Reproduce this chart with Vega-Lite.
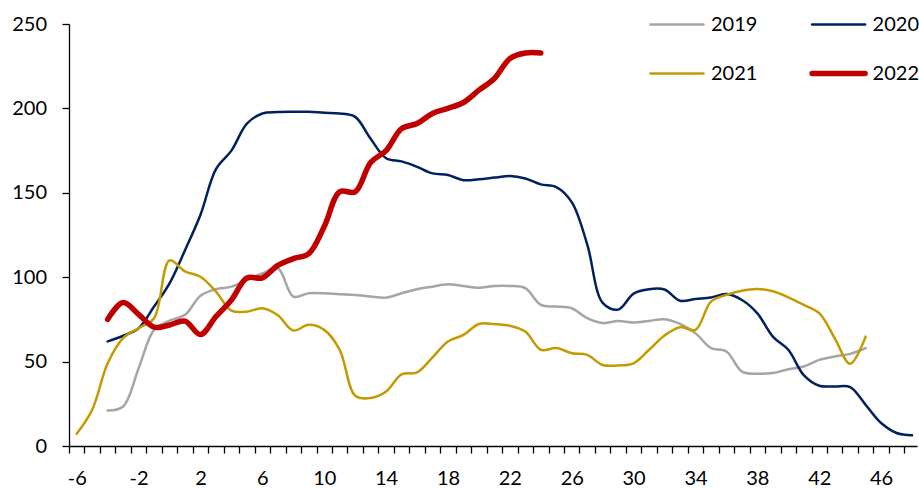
{
  "$schema": "https://vega.github.io/schema/vega-lite/v6.json",
  "width": 848,
  "height": 422,
  "autosize": {"type": "none"},
  "padding": {"left": 69, "top": 24, "right": 2, "bottom": 42},
  "background": "white",
  "config": {
    "view": {"stroke": null},
    "font": "Lato",
    "axis": {"grid": false, "domainColor": "#000000", "domainWidth": 1.3, "tickColor": "#000000", "tickWidth": 1.3, "tickSize": 7, "labelFont": "Lato", "labelFontSize": 20, "labelColor": "#000000", "title": null}
  },
  "datasets": {
    "series": [
      {"year": "2019", "week": -4, "value": 21}, {"year": "2019", "week": -3, "value": 23.4}, {"year": "2019", "week": -2, "value": 46}, {"year": "2019", "week": -1, "value": 68.8}, {"year": "2019", "week": 0, "value": 74.3}, {"year": "2019", "week": 1, "value": 77.7}, {"year": "2019", "week": 2, "value": 89}, {"year": "2019", "week": 3, "value": 92.9}, {"year": "2019", "week": 4, "value": 94.4}, {"year": "2019", "week": 5, "value": 98.4}, {"year": "2019", "week": 6, "value": 102.3}, {"year": "2019", "week": 7, "value": 105.3}, {"year": "2019", "week": 8, "value": 88.5}, {"year": "2019", "week": 9, "value": 90.5}, {"year": "2019", "week": 10, "value": 90.5}, {"year": "2019", "week": 11, "value": 89.9}, {"year": "2019", "week": 12, "value": 89.5}, {"year": "2019", "week": 13, "value": 88.5}, {"year": "2019", "week": 14, "value": 87.9}, {"year": "2019", "week": 15, "value": 90.5}, {"year": "2019", "week": 16, "value": 92.9}, {"year": "2019", "week": 17, "value": 94.4}, {"year": "2019", "week": 18, "value": 95.8}, {"year": "2019", "week": 19, "value": 94.8}, {"year": "2019", "week": 20, "value": 93.8}, {"year": "2019", "week": 21, "value": 94.8}, {"year": "2019", "week": 22, "value": 94.8}, {"year": "2019", "week": 23, "value": 93.5}, {"year": "2019", "week": 24, "value": 83.6}, {"year": "2019", "week": 25, "value": 82.6}, {"year": "2019", "week": 26, "value": 81.6}, {"year": "2019", "week": 27, "value": 75.7}, {"year": "2019", "week": 28, "value": 72.8}, {"year": "2019", "week": 29, "value": 74.1}, {"year": "2019", "week": 30, "value": 73.1}, {"year": "2019", "week": 31, "value": 74.1}, {"year": "2019", "week": 32, "value": 75.1}, {"year": "2019", "week": 33, "value": 72.3}, {"year": "2019", "week": 34, "value": 66.8}, {"year": "2019", "week": 35, "value": 58}, {"year": "2019", "week": 36, "value": 56}, {"year": "2019", "week": 37, "value": 44.1}, {"year": "2019", "week": 38, "value": 42.8}, {"year": "2019", "week": 39, "value": 43.2}, {"year": "2019", "week": 40, "value": 45.5}, {"year": "2019", "week": 41, "value": 47.1}, {"year": "2019", "week": 42, "value": 51}, {"year": "2019", "week": 43, "value": 53}, {"year": "2019", "week": 44, "value": 54.6}, {"year": "2019", "week": 45, "value": 58},
      {"year": "2020", "week": -4, "value": 62}, {"year": "2020", "week": -3, "value": 65.3}, {"year": "2020", "week": -2, "value": 69.8}, {"year": "2020", "week": -1, "value": 82.6}, {"year": "2020", "week": 0, "value": 96.4}, {"year": "2020", "week": 1, "value": 116}, {"year": "2020", "week": 2, "value": 137}, {"year": "2020", "week": 3, "value": 164}, {"year": "2020", "week": 4, "value": 175}, {"year": "2020", "week": 5, "value": 191}, {"year": "2020", "week": 6, "value": 197}, {"year": "2020", "week": 7, "value": 197.8}, {"year": "2020", "week": 8, "value": 198}, {"year": "2020", "week": 9, "value": 198}, {"year": "2020", "week": 10, "value": 197.4}, {"year": "2020", "week": 11, "value": 197}, {"year": "2020", "week": 12, "value": 195}, {"year": "2020", "week": 13, "value": 182}, {"year": "2020", "week": 14, "value": 170.5}, {"year": "2020", "week": 15, "value": 168.6}, {"year": "2020", "week": 16, "value": 165.4}, {"year": "2020", "week": 17, "value": 161.5}, {"year": "2020", "week": 18, "value": 160.5}, {"year": "2020", "week": 19, "value": 157.5}, {"year": "2020", "week": 20, "value": 158}, {"year": "2020", "week": 21, "value": 159}, {"year": "2020", "week": 22, "value": 160}, {"year": "2020", "week": 23, "value": 158.5}, {"year": "2020", "week": 24, "value": 155}, {"year": "2020", "week": 25, "value": 153.4}, {"year": "2020", "week": 26, "value": 144.5}, {"year": "2020", "week": 27, "value": 119.5}, {"year": "2020", "week": 28, "value": 84.8}, {"year": "2020", "week": 29, "value": 80.8}, {"year": "2020", "week": 30, "value": 90.3}, {"year": "2020", "week": 31, "value": 92.9}, {"year": "2020", "week": 32, "value": 92.7}, {"year": "2020", "week": 33, "value": 86}, {"year": "2020", "week": 34, "value": 87.1}, {"year": "2020", "week": 35, "value": 88}, {"year": "2020", "week": 36, "value": 90}, {"year": "2020", "week": 37, "value": 86.5}, {"year": "2020", "week": 38, "value": 78.6}, {"year": "2020", "week": 39, "value": 64.8}, {"year": "2020", "week": 40, "value": 57}, {"year": "2020", "week": 41, "value": 42}, {"year": "2020", "week": 42, "value": 35.7}, {"year": "2020", "week": 43, "value": 35.3}, {"year": "2020", "week": 44, "value": 34.9}, {"year": "2020", "week": 45, "value": 24.4}, {"year": "2020", "week": 46, "value": 13.6}, {"year": "2020", "week": 47, "value": 7.7}, {"year": "2020", "week": 48, "value": 6.3},
      {"year": "2021", "week": -6, "value": 7.3}, {"year": "2021", "week": -5, "value": 21.5}, {"year": "2021", "week": -4, "value": 49}, {"year": "2021", "week": -3, "value": 63.9}, {"year": "2021", "week": -2, "value": 69.8}, {"year": "2021", "week": -1, "value": 75.7}, {"year": "2021", "week": 0, "value": 110}, {"year": "2021", "week": 1, "value": 103.5}, {"year": "2021", "week": 2, "value": 100.3}, {"year": "2021", "week": 3, "value": 91.5}, {"year": "2021", "week": 4, "value": 80.2}, {"year": "2021", "week": 5, "value": 79.6}, {"year": "2021", "week": 6, "value": 81.6}, {"year": "2021", "week": 7, "value": 77.5}, {"year": "2021", "week": 8, "value": 68.4}, {"year": "2021", "week": 9, "value": 71.8}, {"year": "2021", "week": 10, "value": 68.8}, {"year": "2021", "week": 11, "value": 57}, {"year": "2021", "week": 12, "value": 29.8}, {"year": "2021", "week": 13, "value": 28.4}, {"year": "2021", "week": 14, "value": 32.3}, {"year": "2021", "week": 15, "value": 42.4}, {"year": "2021", "week": 16, "value": 43.6}, {"year": "2021", "week": 17, "value": 52.5}, {"year": "2021", "week": 18, "value": 61.9}, {"year": "2021", "week": 19, "value": 65.8}, {"year": "2021", "week": 20, "value": 72.3}, {"year": "2021", "week": 21, "value": 72.2}, {"year": "2021", "week": 22, "value": 71.2}, {"year": "2021", "week": 23, "value": 67.8}, {"year": "2021", "week": 24, "value": 57}, {"year": "2021", "week": 25, "value": 58}, {"year": "2021", "week": 26, "value": 55}, {"year": "2021", "week": 27, "value": 54}, {"year": "2021", "week": 28, "value": 48}, {"year": "2021", "week": 29, "value": 47.7}, {"year": "2021", "week": 30, "value": 49}, {"year": "2021", "week": 31, "value": 57}, {"year": "2021", "week": 32, "value": 65.5}, {"year": "2021", "week": 33, "value": 70.4}, {"year": "2021", "week": 34, "value": 68.8}, {"year": "2021", "week": 35, "value": 85.5}, {"year": "2021", "week": 36, "value": 89.5}, {"year": "2021", "week": 37, "value": 92}, {"year": "2021", "week": 38, "value": 93}, {"year": "2021", "week": 39, "value": 91.7}, {"year": "2021", "week": 40, "value": 88.1}, {"year": "2021", "week": 41, "value": 83.6}, {"year": "2021", "week": 42, "value": 78.7}, {"year": "2021", "week": 43, "value": 63.9}, {"year": "2021", "week": 44, "value": 48.7}, {"year": "2021", "week": 45, "value": 64.8},
      {"year": "2022", "week": -4, "value": 75}, {"year": "2022", "week": -3, "value": 85}, {"year": "2022", "week": -2, "value": 78}, {"year": "2022", "week": -1, "value": 70.4}, {"year": "2022", "week": 0, "value": 71.7}, {"year": "2022", "week": 1, "value": 74}, {"year": "2022", "week": 2, "value": 66}, {"year": "2022", "week": 3, "value": 76.7}, {"year": "2022", "week": 4, "value": 86.5}, {"year": "2022", "week": 5, "value": 99.5}, {"year": "2022", "week": 6, "value": 99.6}, {"year": "2022", "week": 7, "value": 107}, {"year": "2022", "week": 8, "value": 111}, {"year": "2022", "week": 9, "value": 114}, {"year": "2022", "week": 10, "value": 130}, {"year": "2022", "week": 11, "value": 150.6}, {"year": "2022", "week": 12, "value": 150.6}, {"year": "2022", "week": 13, "value": 168}, {"year": "2022", "week": 14, "value": 175}, {"year": "2022", "week": 15, "value": 188}, {"year": "2022", "week": 16, "value": 191}, {"year": "2022", "week": 17, "value": 197}, {"year": "2022", "week": 18, "value": 200}, {"year": "2022", "week": 19, "value": 203.5}, {"year": "2022", "week": 20, "value": 210.8}, {"year": "2022", "week": 21, "value": 217.7}, {"year": "2022", "week": 22, "value": 229.5}, {"year": "2022", "week": 23, "value": 232.8}, {"year": "2022", "week": 24, "value": 232.8}
    ]
  },
  "data": {"name": "series"},
  "mark": {"type": "line", "interpolate": "catmull-rom", "strokeCap": "round", "strokeJoin": "round"},
  "encoding": {
    "x": {
      "field": "week", "type": "quantitative",
      "scale": {"domain": [-6.5, 48.32], "nice": false, "zero": false},
      "axis": {
        "values": [-6,-5,-4,-3,-2,-1,0,1,2,3,4,5,6,7,8,9,10,11,12,13,14,15,16,17,18,19,20,21,22,23,24,25,26,27,28,29,30,31,32,33,34,35,36,37,38,39,40,41,42,43,44,45,46,47,48],
        "tickOffset": -7.73, "labelOffset": 7.73,
        "labelExpr": "(datum.value + 6) % 4 == 0 ? ('' + datum.value) : ''",
        "labelOverlap": false, "labelBound": false, "labelFlush": false,
        "labelPadding": 15
      }
    },
    "y": {
      "field": "value", "type": "quantitative",
      "scale": {"domain": [0, 250], "nice": false},
      "axis": {"values": [0, 50, 100, 150, 200, 250], "labelPadding": 15.5}
    },
    "color": {
      "field": "year", "type": "nominal",
      "scale": {"domain": ["2019", "2021", "2020", "2022"], "range": ["#A5A5A5", "#C49A00", "#002060", "#C00000"]},
      "legend": {
        "orient": "none", "legendX": 580, "legendY": -27.5, "columns": 2, "direction": "vertical",
        "symbolType": "stroke", "symbolSize": 2809, "symbolStrokeWidth": 2.5,
        "labelFont": "Lato", "labelFontSize": 20, "labelColor": "#000000", "title": null,
        "columnPadding": 42.6, "rowPadding": 11, "labelOffset": 6, "padding": 0,
        "encode": {"symbols": {"update": {"strokeWidth": {"signal": "(datum.value == '2022' ? 5.5 : 2.5)"}, "strokeCap": {"value": "round"}}}}
      }
    },
    "strokeWidth": {"condition": {"test": "datum.year == '2022'", "value": 5.5}, "value": 2.5}
  }
}
